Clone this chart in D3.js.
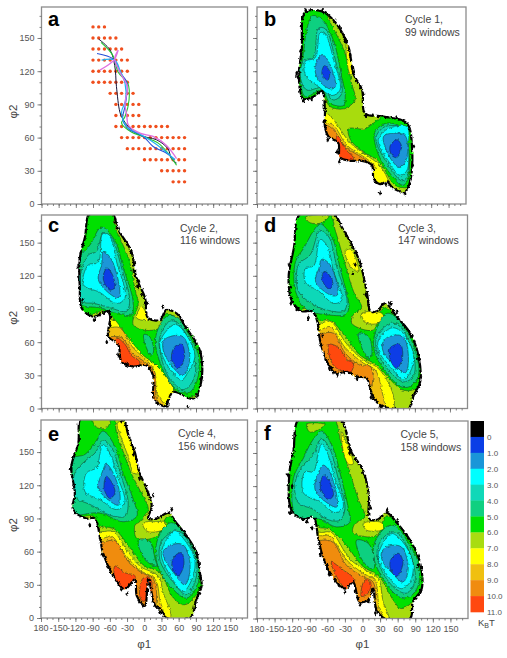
<!DOCTYPE html>
<html><head><meta charset="utf-8">
<script src="https://cdn.jsdelivr.net/npm/d3@7"></script>
<style>html,body{margin:0;background:#fff}svg{display:block}text{font-family:"Liberation Sans",Arial,sans-serif}</style>
</head><body><svg id="c" width="507" height="658"></svg>
<script>
// energy band colours, 0-1 ... 10-11 kBT
const levelColors=["#0a3ee6","#1a96d8","#00ffff","#10d8b8","#10d080","#00e000","#a8dc10","#ffff00","#f0c010","#f08c10","#ff4810"];
const legendLabels=["0","1.0","2.0","3.0","4.0","5.0","6.0","7.0","8.0","9.0","10.0","11.0"];
const xMajor=[-180,-150,-120,-90,-60,-30,0,30,60,90,120,150];
const yMajor=[0,30,60,90,120,150];
// panel a: sampling windows, [phi2, first phi1, last phi1]
const windowRows=[[160,-90,-70],[150,-90,-50],[140,-90,-40],[130,-90,-30],[120,-90,-30],[110,-90,-30],[100,-60,-20],[90,-50,-10],[80,-50,-10],[70,-50,40],[60,-40,70],[50,-30,70],[40,0,70],[30,30,70],[20,50,70]];
const pathBlack=[-80,149,-60,139,-52,125,-49,106,-43,83,-38,77,-28,70,-8,62,21,58,41,50,47,41,56,37];
const pathGreen=[-76,146,-55,134,-46,119,-29,109,-27,94,-34,79,-40,73,-23,65,-2,61,24,55,41,46,56,35];
const pathBlue=[-83,136,-55,131,-43,119,-31,110,-33,91,-38,76,-28,68,-2,61,15,52,38,46,53,40];
const pathCyan=[-75,130,-52,130,-43,121,-34,109,-33,94,-40,83,-31,70,-11,64,9,58,33,49,53,40];
const pathPink=[-78,121,-60,127,-52,131,-46,139,-52,131,-43,119,-30,106,-34,91,-31,80,-28,71,-8,64,15,61,38,53,56,41];
const pathColors=["#14143c","#22c832","#2850d8","#20b0f0","#e070e0"];
// free-energy regions: outline, then [band, polygon] painted in order
const outlineB=[-97,173,-68,174,-42,162,-22,141,-14,118,1,103,6,82,38,79,78,73,87,52,84,21,75,11,55,14,44,20,32,18,21,23,18,35,1,39,-17,39,-37,42,-40,55,-57,61,-63,70,-63,85,-68,102,-83,97,-100,95,-108,115,-103,139];
const regionsB=[[7,[-60,82,-48,76,-19,55,9,44,29,36,44,24,49,12,9,-3,-77,48,-68,82]],[8,[-62,74,-48,71,-25,53,6,42,18,37,25,33,3,33,-77,42,-68,70]],[9,[-61,71,-48,67,-28,52,1,42,9,39,-8,36,-77,42,-68,68]],[10,[-42,62,-25,48,-14,42,-17,38,-40,41,-44,55]],[5,[-103,176,-68,176,-51,161,-28,136,-17,109,-11,94,-31,86,-54,88,-68,98,-123,94,-117,173]],[5,[-22,68,6,68,23,74,38,79,84,73,89,48,89,21,78,15,58,17,29,39,3,47,-19,58]],[7,[-26,145,-20,140,-14,118,-20,118]],[4,[-85,170,-68,167,-48,147,-34,115,-28,97,-31,89,-54,91,-68,103,-97,97,-105,115,-100,136,-94,158]],[3,[-74,159,-62,158,-45,130,-34,100,-48,94,-68,105,-94,103,-105,114,-100,129,-83,133]],[2,[-71,155,-62,153,-48,130,-37,103,-51,98,-74,106,-97,117,-97,129,-80,132]],[1,[-68,135,-57,129,-45,106,-54,104,-74,112,-80,123]],[0,[-64,125,-55,120,-58,112,-68,117]],[4,[23,65,44,73,72,68,81,48,81,24,72,17,55,24,29,45]],[3,[26,62,41,70,75,68,81,52,78,24,69,21,49,33,26,55]],[2,[31,61,46,68,78,70,81,52,78,30,66,26,46,39,29,55]],[1,[38,61,55,64,75,62,78,42,66,33,49,42]],[0,[49,52,61,58,69,52,61,42,52,44]]];
const specksB=[-110,115,-100,93,-96,175,-67,175,-38,160,-20,135,4,100,-42,47,-38,38,8,80,90,52,88,35,32,10,75,9,-105,138,-112,118,-86,95,-30,150,-10,112,60,78,-58,58,42,18];
const outlineC=[-95,178,-58,178,-46,162,-23,142,-14,118,1,100,6,82,27,80,38,89,56,86,73,73,97,52,99,24,85,9,50,15,41,6,38,2,17,8,15,30,3,39,-20,38,-40,42,-46,58,-63,65,-60,82,-63,88,-90,83,-110,91,-113,109,-113,136,-104,155];
const regionsC=[[7,[-63,80,-46,80,-20,61,9,45,27,36,50,21,41,0,-20,-12,-90,48,-78,80]],[8,[-63,73,-43,73,-20,55,3,44,15,36,21,15,35,0,-20,-12,-90,48,-78,73]],[9,[-58,65,-40,64,-20,50,3,41,18,33,20,11,27,0,3,-9,-78,39,-66,64]],[10,[-49,64,-34,58,-23,48,-8,42,-14,36,-37,39,-46,52]],[5,[-98,178,-60,178,-49,161,-28,136,-17,109,-11,94,-17,85,-20,76,-2,71,27,73,38,86,102,55,102,24,85,11,62,11,44,24,21,39,-2,48,-28,64,-55,82,-72,88,-119,82,-119,176]],[7,[-14,82,-5,92,3,86,6,80]],[4,[-75,164,-52,152,-37,127,-20,97,-23,85,-49,86,-78,91,-113,95,-113,136,-95,148]],[3,[-72,159,-58,155,-40,127,-26,98,-31,88,-60,91,-87,95,-110,97,-113,118,-98,139,-84,142]],[2,[-73,158,-60,155,-49,133,-34,100,-49,95,-78,105,-107,112,-98,130,-81,132]],[1,[-72,142,-58,135,-43,106,-46,100,-66,106,-81,117,-75,130]],[0,[-66,127,-58,123,-52,111,-60,107,-72,117]],[4,[21,68,38,83,56,83,76,68,94,48,91,24,76,14,50,20,21,52]],[3,[27,65,44,79,59,77,85,52,88,30,70,17,44,27,27,52]],[2,[30,64,53,76,67,71,88,48,76,33,65,26,44,36,27,55]],[1,[33,61,44,65,67,65,79,45,67,30,47,39,33,52]],[0,[53,56,65,58,70,47,59,36,47,45]],[4,[-1,67,9,65,16,52,12,48,1,58]]];
const specksC=[-113,135,-115,118,-108,98,-88,80,-66,60,-60,75,-46,48,-25,141,-20,125,-10,115,4,95,32,92,98,50,100,28,93,12,40,2,76,2,-96,176,-116,128,-78,85,-12,110,-4,104,100,42,-30,40];
const outlineD=[-106,176,-49,176,-35,164,-6,135,8,105,14,88,25,88,39,95,59,83,82,68,96,48,99,24,88,12,79,0,51,0,31,3,17,12,8,27,-9,29,-26,33,-43,32,-57,39,-72,61,-77,79,-86,88,-103,88,-120,97,-126,118,-117,145];
const regionsD=[[7,[-72,77,-55,79,-26,58,2,44,28,36,53,12,51,-3,-20,-12,-94,45,-83,79]],[8,[-72,71,-55,74,-29,55,2,41,22,35,34,15,36,0,-20,-12,-94,45,-83,71]],[9,[-69,68,-49,68,-29,50,-3,39,14,38,16,21,-3,15,-94,39,-83,67]],[10,[-57,58,-40,55,-26,44,-15,41,-20,33,-43,36,-55,45]],[5,[-109,177,-57,177,-46,161,-29,130,-15,106,-1,91,-15,85,-18,77,19,71,36,91,105,48,105,24,88,17,68,17,25,39,-3,48,-29,65,-55,80,-74,80,-86,91,-134,88,-134,176]],[6,[-97,173,-57,174,-69,168,-89,168]],[7,[-29,142,-20,144,-6,124,-18,127]],[7,[-1,86,34,86,36,79,8,77]],[4,[-72,167,-52,155,-38,127,-23,91,-29,85,-63,85,-94,89,-114,106,-114,133,-100,145,-83,161]],[3,[-72,161,-57,155,-43,127,-26,97,-32,88,-60,89,-83,94,-109,106,-109,130,-89,139]],[2,[-72,153,-60,147,-49,124,-35,98,-49,95,-74,106,-97,114,-97,127,-83,129]],[1,[-69,135,-55,130,-42,103,-52,102,-80,115,-74,127]],[0,[-65,124,-55,120,-50,112,-57,108,-69,117]],[4,[22,68,42,86,59,82,82,64,93,48,96,30,82,20,65,20,22,50]],[3,[25,65,48,77,65,74,88,48,88,30,73,24,53,30,25,52]],[2,[28,62,51,73,70,68,88,48,82,33,70,26,51,36,28,52]],[1,[34,58,45,65,70,65,79,42,73,32,53,41,39,48]],[0,[48,55,65,58,69,47,59,36,48,44]],[4,[-6,68,11,65,16,48,11,45,-3,58]]];
const specksD=[-122,95,-112,90,-92,82,-72,58,-56,36,-43,30,-9,27,15,10,32,1,-16,122,6,103,48,95,96,45,100,28,-28,158,-122,110,-125,130,-68,66,-50,33,60,87,80,70,-12,130,10,98];
const outlineE=[-124,98,-121,113,-127,137,-115,158,-109,182,-40,182,-28,166,-16,149,-8,131,4,117,13,101,7,90,22,90,42,95,56,86,77,72,91,59,97,41,100,29,91,17,80,0,39,0,27,8,19,11,7,35,1,11,-13,20,-16,35,-34,26,-54,38,-72,59,-77,72,-86,90,-101,90];
const regionsE=[[7,[-74,78,-54,78,-31,62,-8,47,24,38,33,23,45,-2,-19,-10,-106,53,-89,78]],[8,[-72,72,-57,74,-37,60,-10,44,19,35,27,17,33,-2,-19,-10,-106,53,-89,72]],[9,[-69,69,-51,70,-31,53,-8,42,16,35,20,11,4,-5,-31,-5,-101,44,-83,68]],[10,[-51,47,-34,41,-16,38,-25,29,-37,24,-51,35]],[10,[-2,36,10,36,13,24,-2,15,-8,20]],[5,[-115,185,-57,185,-48,167,-35,148,-22,130,-5,113,7,98,-8,87,-16,84,-13,72,22,74,42,92,103,59,103,32,91,21,71,12,51,18,27,41,-2,48,-28,66,-54,81,-77,83,-89,92,-135,92,-135,158]],[6,[-90,180,-60,180,-65,172,-82,172]],[7,[-47,176,-38,178,-22,158,-12,143,-9,131,-18,131,-28,146,-40,163]],[7,[-2,86,22,87,37,87,33,80,7,78,-1,82]],[4,[-72,169,-51,155,-37,131,-19,107,-13,92,-37,87,-77,95,-130,95,-130,143,-103,148,-86,158]],[3,[-72,160,-57,154,-42,131,-28,104,-34,92,-60,93,-92,102,-121,110,-121,131,-103,142,-86,149]],[2,[-72,157,-60,149,-48,130,-34,104,-48,98,-77,107,-103,114,-101,131,-83,136,-77,149]],[1,[-66,139,-54,131,-42,110,-45,102,-63,107,-80,117,-74,131]],[0,[-66,128,-57,123,-51,113,-60,108,-70,117]],[4,[24,72,45,86,56,84,80,68,91,56,94,32,74,18,45,29,22,50]],[3,[30,69,51,78,65,77,88,56,91,38,74,21,51,32,27,53]],[2,[33,65,53,79,68,72,88,53,83,35,68,24,48,36,30,56]],[1,[33,60,45,66,68,66,80,47,71,30,51,41,36,53]],[0,[53,56,65,59,69,48,59,38,48,47]],[4,[-10,71,10,69,19,53,22,47,7,50,-8,62]]];
const specksE=[-121,96,-95,84,-72,57,-54,38,-40,26,-8,15,-2,11,27,5,97,26,91,59,48,98,16,111,-19,148,-40,178,-123,120,-128,135,-60,45,-30,22,30,92,70,78,98,36,-8,126];
const outlineF=[-107,182,-40,182,-19,151,1,134,11,111,12,90,27,90,41,96,58,87,81,71,98,51,101,27,86,15,81,0,38,0,24,8,18,27,10,17,-5,15,-16,33,-30,27,-56,42,-70,60,-76,75,-84,92,-101,90,-121,98,-125,130,-118,151];
const regionsF=[[7,[-70,78,-53,78,-22,54,4,44,27,36,35,15,44,-2,-22,-9,-95,48,-84,78]],[8,[-68,75,-56,75,-27,53,1,41,21,35,27,15,32,-3,-22,-9,-95,48,-81,74]],[9,[-68,71,-50,69,-27,48,1,38,18,33,21,15,1,0,-33,6,-95,42,-81,68]],[10,[-53,51,-33,44,-13,35,-27,27,-41,35]],[10,[4,35,14,33,10,23,-2,20]],[5,[-110,185,-53,185,-36,158,-22,133,-7,108,4,92,-13,86,-16,78,24,75,41,93,103,54,106,27,92,18,66,9,52,17,27,39,1,47,-30,68,-56,81,-76,83,-87,93,-135,90,-135,178]],[6,[-95,176,-64,176,-73,172,-90,169]],[7,[-36,170,-28,160,-19,148,-16,140,-24,140,-33,152]],[7,[1,86,32,87,35,81,7,80]],[4,[-70,170,-50,154,-39,133,-24,99,-22,87,-44,83,-73,90,-113,93,-118,127,-101,145,-87,160]],[3,[-70,163,-56,154,-43,130,-30,99,-39,89,-61,90,-84,99,-110,105,-115,123,-101,139,-84,148]],[2,[-70,158,-59,149,-47,127,-33,101,-47,96,-70,105,-101,114,-98,133,-84,133,-76,148]],[1,[-67,139,-56,133,-43,108,-44,101,-61,105,-81,117,-76,131]],[0,[-66,130,-57,125,-50,111,-59,108,-72,119]],[4,[21,69,44,84,58,83,81,66,95,51,95,30,81,20,61,20,21,51]],[3,[27,66,47,78,61,77,86,51,89,33,75,23,52,29,27,51]],[2,[30,63,49,77,66,71,86,51,81,33,66,27,47,36,27,54]],[1,[32,59,41,65,66,65,78,45,69,33,49,42,35,51]],[0,[49,54,62,59,69,50,58,38,47,47]],[4,[-10,71,10,68,21,51,18,45,7,48,-7,60]]];
const specksF=[-123,96,-95,88,-86,82,-72,58,-57,40,-30,24,-5,13,10,15,22,5,42,98,12,108,2,132,-22,150,100,25,95,48,-120,120,-127,130,-40,30,60,88,75,76,-60,48,14,100];
// panel texts
const panelLetters=["a","b","c","d","e","f"];
const cycleLines=[null,["Cycle 1,","99 windows"],["Cycle 2,","116 windows"],["Cycle 3,","147 windows"],["Cycle 4,","156 windows"],["Cycle 5,","158 windows"]];

const svg=d3.select("#c");
const pairs=f=>d3.range(0,f.length,2).map(i=>[f[i],f[i+1]]);
const frames=[
 {l:41.5,r:247.5,t:7,b:204,top:178,txt:null,lt:[48,26],yl:true},
 {l:257,r:466,t:7,b:204,top:178,txt:[405,23,36],lt:[264,26],outline:outlineB,regions:regionsB,specks:specksB},
 {l:41.5,r:247.5,t:215,b:408.5,top:175,txt:[180,232,244],lt:[48,232],yl:true,outline:outlineC,regions:regionsC,specks:specksC},
 {l:257,r:467.5,t:215,b:408.5,top:175,txt:[398,232,244],lt:[264,232],outline:outlineD,regions:regionsD,specks:specksD},
 {l:41,r:247.5,t:420,b:618,top:179,txt:[178,437,449.5],lt:[48,441],yl:true,xl:true,outline:outlineE,regions:regionsE,specks:specksE},
 {l:257,r:468,t:421,b:618.5,top:179,txt:[400.5,438,450.5],lt:[264,440],xl:true,outline:outlineF,regions:regionsF,specks:specksF}
];
const defs=svg.append("defs");
const rough=defs.append("filter").attr("id","rough").attr("x","-5%").attr("y","-5%").attr("width","110%").attr("height","110%");
rough.append("feTurbulence").attr("type","fractalNoise").attr("baseFrequency",.32).attr("numOctaves",2).attr("seed",4).attr("result","n");
rough.append("feDisplacementMap").attr("in","SourceGraphic").attr("in2","n").attr("scale",3.2).attr("xChannelSelector","R").attr("yChannelSelector","G").attr("result","d");
rough.append("feGaussianBlur").attr("in","d").attr("stdDeviation",.3);
frames.forEach((p,i)=>{
 const x=d3.scaleLinear([-180,180],[p.l,p.r]), y=d3.scaleLinear([0,p.top],[p.b,p.t]);
 const g=svg.append("g");
 const line=d3.line(d=>x(d[0]),d=>y(d[1])).curve(d3.curveCatmullRomClosed.alpha(.5));
 defs.append("clipPath").attr("id","box"+i).append("rect").attr("x",p.l).attr("y",p.t).attr("width",p.r-p.l).attr("height",p.b-p.t);
 const box=g.append("g").attr("clip-path",`url(#box${i})`);
 if(p.outline){
  const o=pairs(p.outline);
  defs.append("clipPath").attr("id","out"+i).append("path").attr("d",line(o));
  const w=box.append("g").attr("filter","url(#rough)");
  w.append("path").attr("d",line(o)).attr("fill",levelColors[6]);
  const inner=w.append("g").attr("clip-path",`url(#out${i})`);
  inner.selectAll("path").data(p.regions).join("path")
   .attr("d",d=>line(pairs(d[1]))).attr("fill",d=>levelColors[d[0]])
   .attr("stroke","#143020").attr("stroke-width",.5);
  w.append("path").attr("d",line(o)).attr("fill","none").attr("stroke","#000").attr("stroke-width",2.2).attr("stroke-dasharray","13 1 5 1.5 21 2 7 1 9 3");
  w.selectAll("path.s").data(pairs(p.specks)).join("path").attr("class","s")
   .attr("d",d3.symbol(d3.symbolDiamond,8)).attr("transform",d=>`translate(${x(d[0])},${y(d[1])})`).attr("fill","#000");
 } else {
  const dots=windowRows.flatMap(r=>d3.range(r[1],r[2]+1,10).map(v=>[v,r[0]]));
  box.selectAll("circle").data(dots).join("circle").attr("cx",d=>x(d[0])).attr("cy",d=>y(d[1])).attr("r",1.7).attr("fill","#f04f1e");
  const pl=d3.line(d=>x(d[0]),d=>y(d[1])).curve(d3.curveCatmullRom.alpha(.5));
  [[pathBlack,0,1],[pathGreen,1,1.1],[pathBlue,2,1.1],[pathCyan,3,1.2],[pathPink,4,1.35]].forEach(([q,k,sw])=>{
    box.append("path").attr("d",pl(pairs(q))).attr("fill","none").attr("stroke",pathColors[k]).attr("stroke-width",sw);
  });
 }
 g.append("rect").attr("x",p.l).attr("y",p.t).attr("width",p.r-p.l).attr("height",p.b-p.t).attr("fill","none").attr("stroke","#8c8c8c").attr("stroke-width",1.3);
 // axes
 const style=a=>{a.select(".domain").remove();a.selectAll("line").attr("stroke","#666").attr("stroke-width",.8);a.selectAll("text").attr("fill","#555").attr("font-size",9).attr("font-family",'"Liberation Sans",Arial,sans-serif');};
 const xMinor=d3.range(-180,180,10), yMinor=d3.range(0,p.top,10);
 svg.append("g").attr("transform",`translate(0,${p.b})`).call(d3.axisBottom(x).tickValues(xMinor).tickSize(2).tickFormat("")).call(style);
 const xa=svg.append("g").attr("transform",`translate(0,${p.b})`).call(d3.axisBottom(x).tickValues(xMajor).tickSize(4).tickPadding(3).tickFormat(p.xl?d=>d===-180?"180":d:"")).call(style);
 if(p.xl){
  // the first label reads "180" in the picture and sits just left of "-150"
  xa.selectAll("text").filter(d=>d===-180).attr("text-anchor","end").attr("x",7);
 }
 svg.append("g").attr("transform",`translate(${p.l},0)`).call(d3.axisLeft(y).tickValues(yMinor).tickSize(2).tickFormat("")).call(style);
 svg.append("g").attr("transform",`translate(${p.l},0)`).call(d3.axisLeft(y).tickValues(yMajor).tickSize(4).tickPadding(3).tickFormat(p.yl?d=>d:"")).call(style);
 // texts
 svg.append("text").attr("x",p.lt[0]).attr("y",p.lt[1]).attr("font-size",20).attr("font-weight","bold").attr("fill","#000").text(panelLetters[i]);
 if(p.txt) cycleLines[i].forEach((s,k)=>svg.append("text").attr("x",p.txt[0]).attr("y",p.txt[1+k]).attr("font-size",10.5).attr("fill","#444").text(s));
 if(p.yl) svg.append("text").attr("transform",`translate(17,${(p.t+p.b)/2+6}) rotate(-90)`).attr("text-anchor","middle").attr("font-size",11.5).attr("fill","#444").text("φ2");
 if(p.xl) svg.append("text").attr("x",(p.l+p.r)/2).attr("y",648).attr("text-anchor","middle").attr("font-size",11.5).attr("fill","#444").text("φ1");
});
// colour legend
const legendColors=["#000"].concat(levelColors);
const ly=d3.scaleBand(legendLabels,[421,612]);
svg.selectAll("rect.k").data(legendLabels).join("rect").attr("class","k").attr("x",470.5).attr("width",13.5).attr("y",d=>ly(d)).attr("height",ly.bandwidth()+.3).attr("fill",(d,i)=>legendColors[i]);
svg.selectAll("text.k").data(legendLabels).join("text").attr("class","k").attr("x",487).attr("y",d=>ly(d)+ly.bandwidth()+3).attr("font-size",8).attr("fill","#555").text(d=>d);
const kt=svg.append("text").attr("x",478).attr("y",626).attr("font-size",9.5).attr("fill","#444");
kt.append("tspan").text("K");kt.append("tspan").attr("dy",2).attr("font-size",7).text("B");kt.append("tspan").attr("dy",-2).text("T");
</script></body></html>
